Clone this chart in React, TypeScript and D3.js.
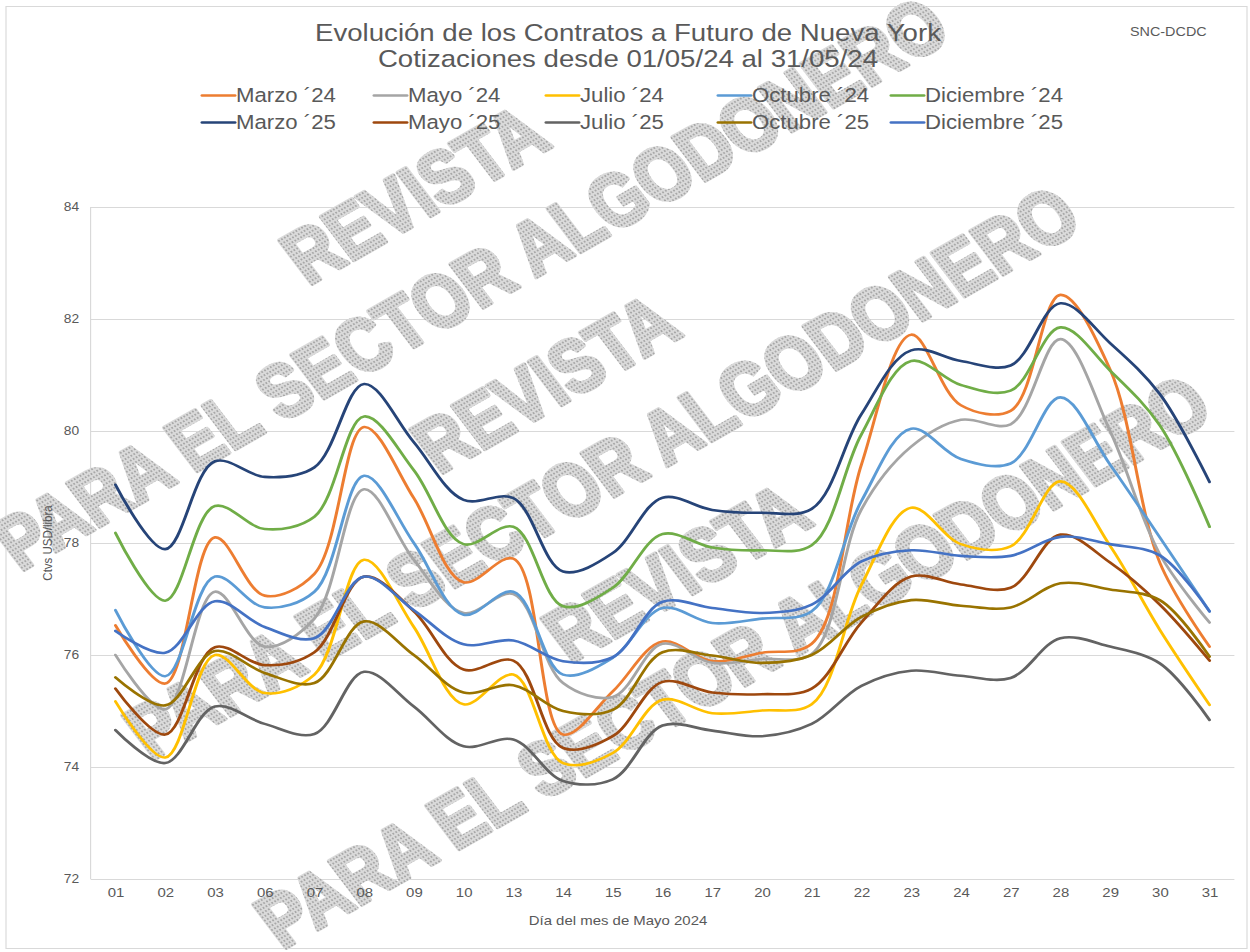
import React, { useEffect, useRef } from "react";
import * as d3 from "d3";

// Día del mes (ruedas de mayo 2024)
const dias = ["01", "02", "03", "06", "07", "08", "09", "10", "13", "14", "15", "16", "17", "20", "21", "22", "23", "24", "27", "28", "29", "30", "31"];

const marzo24 = [76.53, 75.49, 78.1, 77.06, 77.45, 80.07, 78.8, 77.3, 77.72, 74.58, 75.35, 76.24, 75.89, 76.04, 76.2, 79.4, 81.72, 80.46, 80.36, 82.43, 81.1, 77.65, 76.15];
const mayo24 = [76.0, 75.03, 77.13, 76.15, 76.65, 78.96, 77.7, 76.75, 77.09, 75.5, 75.25, 76.2, 75.86, 75.93, 76.02, 78.6, 79.72, 80.2, 80.12, 81.64, 80.0, 77.8, 76.58];
const julio24 = [75.17, 74.17, 76.0, 75.32, 75.65, 77.7, 76.5, 75.12, 75.65, 74.07, 74.25, 75.2, 74.96, 75.01, 75.12, 77.25, 78.63, 77.98, 77.94, 79.1, 77.95, 76.45, 75.11];
const octubre24 = [76.8, 75.62, 77.4, 76.85, 77.13, 79.2, 78.0, 76.72, 77.13, 75.65, 75.95, 76.84, 76.57, 76.65, 76.78, 78.75, 80.04, 79.5, 79.42, 80.6, 79.4, 78.1, 76.78];
const diciembre24 = [78.18, 76.97, 78.66, 78.25, 78.47, 80.26, 79.3, 77.98, 78.29, 76.87, 77.2, 78.16, 77.92, 77.87, 77.96, 79.94, 81.25, 80.82, 80.72, 81.85, 81.08, 80.1, 78.29];
const marzo25 = [79.04, 77.89, 79.46, 79.18, 79.35, 80.84, 79.8, 78.77, 78.8, 77.49, 77.82, 78.81, 78.59, 78.54, 78.61, 80.3, 81.44, 81.25, 81.17, 82.28, 81.57, 80.66, 79.09];
const mayo25 = [75.4, 74.58, 76.14, 75.82, 76.05, 77.4, 76.78, 75.74, 75.9, 74.34, 74.55, 75.52, 75.33, 75.3, 75.4, 76.58, 77.4, 77.26, 77.2, 78.15, 77.65, 76.9, 75.9];
const julio25 = [74.66, 74.07, 75.08, 74.77, 74.59, 75.7, 75.08, 74.37, 74.49, 73.75, 73.78, 74.74, 74.65, 74.55, 74.77, 75.45, 75.72, 75.63, 75.59, 76.3, 76.15, 75.85, 74.84];
const octubre25 = [75.6, 75.1, 76.07, 75.68, 75.5, 76.6, 76.0, 75.33, 75.46, 75.0, 75.02, 76.05, 75.99, 75.86, 76.0, 76.68, 76.98, 76.88, 76.85, 77.28, 77.17, 76.98, 75.97];
const diciembre25 = [76.43, 76.04, 76.96, 76.5, 76.3, 77.4, 76.8, 76.19, 76.26, 75.89, 75.96, 76.95, 76.84, 76.75, 76.9, 77.67, 77.87, 77.77, 77.77, 78.11, 77.98, 77.78, 76.78];

const series = [
  { name: "Marzo ´24", color: "#ED7D31", values: marzo24 },
  { name: "Mayo ´24", color: "#A5A5A5", values: mayo24 },
  { name: "Julio ´24", color: "#FFC000", values: julio24 },
  { name: "Octubre ´24", color: "#5B9BD5", values: octubre24 },
  { name: "Diciembre ´24", color: "#70AD47", values: diciembre24 },
  { name: "Marzo ´25", color: "#264478", values: marzo25 },
  { name: "Mayo ´25", color: "#9E480E", values: mayo25 },
  { name: "Julio ´25", color: "#636363", values: julio25 },
  { name: "Octubre ´25", color: "#997300", values: octubre25 },
  { name: "Diciembre ´25", color: "#4472C4", values: diciembre25 },
];

const yTicks = [72, 74, 76, 78, 80, 82, 84];

const WIDTH = 1250;
const HEIGHT = 952;
// the original picture is stretched sideways, so draw in narrower units and let the svg stretch it
const SX = 1.15;
const VW = WIDTH / SX;

const FONT = "'Liberation Sans', Arial, sans-serif";
const TEXT = "#595959";
const GRID = "#d9d9d9";

function App() {
  const svgRef: any = useRef(null);

  useEffect(() => {
    draw();
  }, []);

  const draw = () => {
    const svg = d3.select(svgRef.current);
    svg.selectAll("*").remove();

    const left = 90.6 / SX;
    const right = 1234.4 / SX;
    const top = 207;
    const bottom = 879;

    const x = d3.scalePoint().domain(dias).range([left, right]).padding(0.5);
    const y = d3.scaleLinear().domain([72, 84]).range([bottom, top]);

    // dotted fill for the watermark
    const defs = svg.append("defs");
    const pat = defs
      .append("pattern")
      .attr("id", "dots")
      .attr("width", 3)
      .attr("height", 3)
      .attr("patternUnits", "userSpaceOnUse");
    pat.append("rect").attr("width", 3).attr("height", 3).attr("fill", "#dadada");
    pat.append("rect").attr("width", 1.5).attr("height", 1.5).attr("fill", "#a8a8a8");

    svg.append("rect").attr("width", VW).attr("height", HEIGHT).attr("fill", "#fff");
    svg
      .append("rect")
      .attr("x", 6 / SX)
      .attr("y", 6.5)
      .attr("width", 1241 / SX)
      .attr("height", 942)
      .attr("fill", "none")
      .attr("stroke", GRID);

    // gridlines + y labels
    const yAxis = svg
      .append("g")
      .attr("transform", `translate(${left},0)`)
      .call(
        d3
          .axisLeft(y)
          .tickValues(yTicks)
          .tickSize(-(right - left))
          .tickPadding(10)
          .tickFormat((d: any) => String(d))
      );
    yAxis.select(".domain").remove();
    yAxis.selectAll("line").attr("stroke", GRID);
    yAxis
      .selectAll("text")
      .attr("fill", TEXT)
      .attr("font-family", FONT)
      .attr("font-size", 12);

    svg
      .append("line")
      .attr("x1", left)
      .attr("x2", left)
      .attr("y1", top)
      .attr("y2", bottom)
      .attr("stroke", GRID);

    // watermark (three copies down the diagonal)
    const angle = -33.3;
    const wm = svg
      .append("g")
      .attr("fill", "url(#dots)")
      .attr("stroke", "url(#dots)")
      .attr("stroke-width", 3.5)
      .attr("stroke-linejoin", "round")
      .attr("font-family", FONT)
      .attr("font-weight", "bold")
      .attr("font-size", 60);
    [0, 1, 2].forEach((k) => {
      const sx = 20 / SX + k * (131 / SX);
      const sy = 572 + k * 189;
      wm.append("text")
        .attr("transform", `translate(${sx},${sy}) rotate(${angle}) scale(1,1.25)`)
        .text("PARA EL SECTOR ALGODONERO");
      wm.append("text")
        .attr("transform", `translate(${sx + 288 / SX},${sy - 286}) rotate(${angle}) scale(1,1.25)`)
        .text("REVISTA");
    });

    // x labels
    const xAxis = svg
      .append("g")
      .attr("transform", `translate(0,${bottom})`)
      .call(d3.axisBottom(x).tickSize(0).tickPadding(9));
    xAxis.select(".domain").remove();
    xAxis
      .selectAll("text")
      .attr("fill", TEXT)
      .attr("font-family", FONT)
      .attr("font-size", 13);

    // series
    const line = d3
      .line<number>()
      .x((d, i) => x(dias[i]) as number)
      .y((d) => y(d))
      .curve(d3.curveCatmullRom);

    series.forEach((s) => {
      svg
        .append("path")
        .datum(s.values)
        .attr("fill", "none")
        .attr("stroke", s.color)
        .attr("stroke-width", 2.6)
        .attr("stroke-linejoin", "round")
        .attr("stroke-linecap", "round")
        .attr("d", line as any);
    });

    // titles
    const title = svg
      .append("text")
      .attr("text-anchor", "middle")
      .attr("fill", TEXT)
      .attr("font-family", FONT)
      .attr("font-size", 24);
    title.append("tspan").attr("x", 628 / SX).attr("y", 41).text("Evolución de los Contratos a Futuro de Nueva York");
    title.append("tspan").attr("x", 628 / SX).attr("y", 67).text("Cotizaciones desde 01/05/24 al 31/05/24");

    svg
      .append("text")
      .attr("x", 1130 / SX)
      .attr("y", 36)
      .attr("fill", TEXT)
      .attr("font-family", FONT)
      .attr("font-size", 12.5)
      .text("SNC-DCDC");

    svg
      .append("text")
      .attr("transform", `translate(${52 / SX},${(top + bottom) / 2}) rotate(-90)`)
      .attr("text-anchor", "middle")
      .attr("fill", TEXT)
      .attr("font-family", FONT)
      .attr("font-size", 11.5)
      .text("Ctvs USD/libra");

    svg
      .append("text")
      .attr("x", 618 / SX)
      .attr("y", 925)
      .attr("text-anchor", "middle")
      .attr("fill", TEXT)
      .attr("font-family", FONT)
      .attr("font-size", 13)
      .text("Día del mes de Mayo 2024");

    // legend
    const colX = [202, 374, 546, 718, 891];
    const legend = svg.append("g").attr("font-family", FONT).attr("font-size", 19.3).attr("fill", TEXT);
    series.forEach((s, i) => {
      const cx = colX[i % 5] / SX;
      const row = Math.floor(i / 5);
      const ly = row === 0 ? 95.5 : 122.5;
      legend
        .append("line")
        .attr("x1", cx)
        .attr("x2", cx + 33 / SX)
        .attr("y1", ly)
        .attr("y2", ly)
        .attr("stroke", s.color)
        .attr("stroke-width", 2.6)
        .attr("stroke-linecap", "round");
      legend
        .append("text")
        .attr("x", cx + 34 / SX)
        .attr("y", ly + 7)
        .text(s.name);
    });
  };

  return (
    <svg
      ref={svgRef}
      width={WIDTH}
      height={HEIGHT}
      viewBox={`0 0 ${VW} ${HEIGHT}`}
      preserveAspectRatio="none"
      style={{ position: "absolute", left: 0, top: 0 }}
    />
  );
}

export default App;
